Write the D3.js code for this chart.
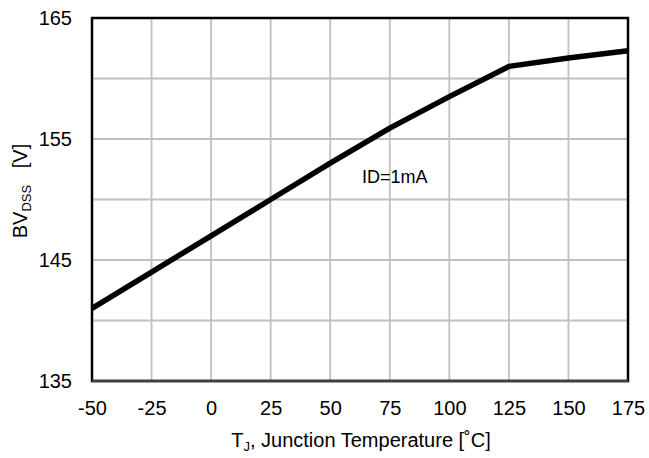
<!DOCTYPE html>
<html><head><meta charset="utf-8">
<script src="https://cdn.jsdelivr.net/npm/d3@7"></script>
<style>body{margin:0;background:#fff}svg{display:block}text{font-family:"Liberation Sans",Arial,sans-serif;fill:#000}</style>
</head><body>
<svg id="c" width="649" height="458"></svg>
<script>
const temps = [-50, -25, 0, 25, 50, 75, 100, 125, 150, 175];
const bvdss = [141, 144, 147, 150, 153, 155.9, 158.5, 161, 161.7, 162.3];
const xTicks = [-50, -25, 0, 25, 50, 75, 100, 125, 150, 175];
const yTicks = [135, 140, 145, 150, 155, 160, 165];
const yLabelTicks = [135, 145, 155, 165];

const svg = d3.select("#c");
const L = 92, R = 628, T = 18, B = 381;
const x = d3.scaleLinear().domain([-50, 175]).range([L, R]);
const y = d3.scaleLinear().domain([135, 165]).range([B, T]);
const FONT = "Liberation Sans, Arial, sans-serif";

// grid
svg.append("g").selectAll("line").data(xTicks).join("line")
  .attr("x1", d => x(d)).attr("x2", d => x(d)).attr("y1", T).attr("y2", B)
  .attr("stroke", "#c0c0c0").attr("stroke-width", 1.8);
svg.append("g").selectAll("line").data(yTicks).join("line")
  .attr("y1", d => y(d)).attr("y2", d => y(d)).attr("x1", L).attr("x2", R)
  .attr("stroke", "#c0c0c0").attr("stroke-width", 1.8);

// frame
svg.append("rect").attr("x", L).attr("y", T).attr("width", R - L).attr("height", B - T)
  .attr("fill", "none").attr("stroke", "#000").attr("stroke-width", 2.5);
svg.append("line").attr("x1", L).attr("x2", R).attr("y1", B).attr("y2", B)
  .attr("stroke", "#404040").attr("stroke-width", 2.5);

// tick labels via d3 axes
const fmt = d => String(d);
const xAxis = d3.axisBottom(x).tickValues(xTicks).tickSize(0).tickPadding(20).tickFormat(fmt);
const gx = svg.append("g").attr("transform", `translate(0,${B})`).call(xAxis);
gx.select(".domain").remove();
gx.selectAll("text").attr("font-size", 20).attr("font-family", FONT).attr("fill", "#000");

const yAxis = d3.axisLeft(y).tickValues(yLabelTicks).tickSize(0).tickPadding(20).tickFormat(fmt);
const gy = svg.append("g").attr("transform", `translate(${L},0)`).call(yAxis);
gy.select(".domain").remove();
gy.selectAll("text").attr("font-size", 20).attr("font-family", FONT).attr("fill", "#000");

// data line
const data = temps.map((t, i) => [t, bvdss[i]]);
svg.append("path").datum(data)
  .attr("d", d3.line().x(d => x(d[0])).y(d => y(d[1])))
  .attr("fill", "none").attr("stroke", "#000").attr("stroke-width", 5.5).attr("stroke-linejoin", "round");

// annotation
svg.append("text").attr("x", 362).attr("y", 183).attr("font-size", 18).text("ID=1mA");

// x title
const xt = svg.append("text").attr("x", 361).attr("y", 447).attr("text-anchor", "middle").attr("font-size", 20);
xt.append("tspan").text("T");
xt.append("tspan").attr("font-size", 13).attr("dy", 4).text("J");
xt.append("tspan").attr("dy", -4).text(", Junction Temperature [˚C]");

// y title
const yt = svg.append("text").attr("transform", "translate(26.5,191) rotate(-90)").attr("text-anchor", "middle").attr("font-size", 20);
yt.append("tspan").text("BV");
yt.append("tspan").attr("font-size", 13).attr("dy", 4).text("DSS");
yt.append("tspan").attr("dy", -4).text("\u00a0\u00a0\u00a0[V]");
</script>
</body></html>
